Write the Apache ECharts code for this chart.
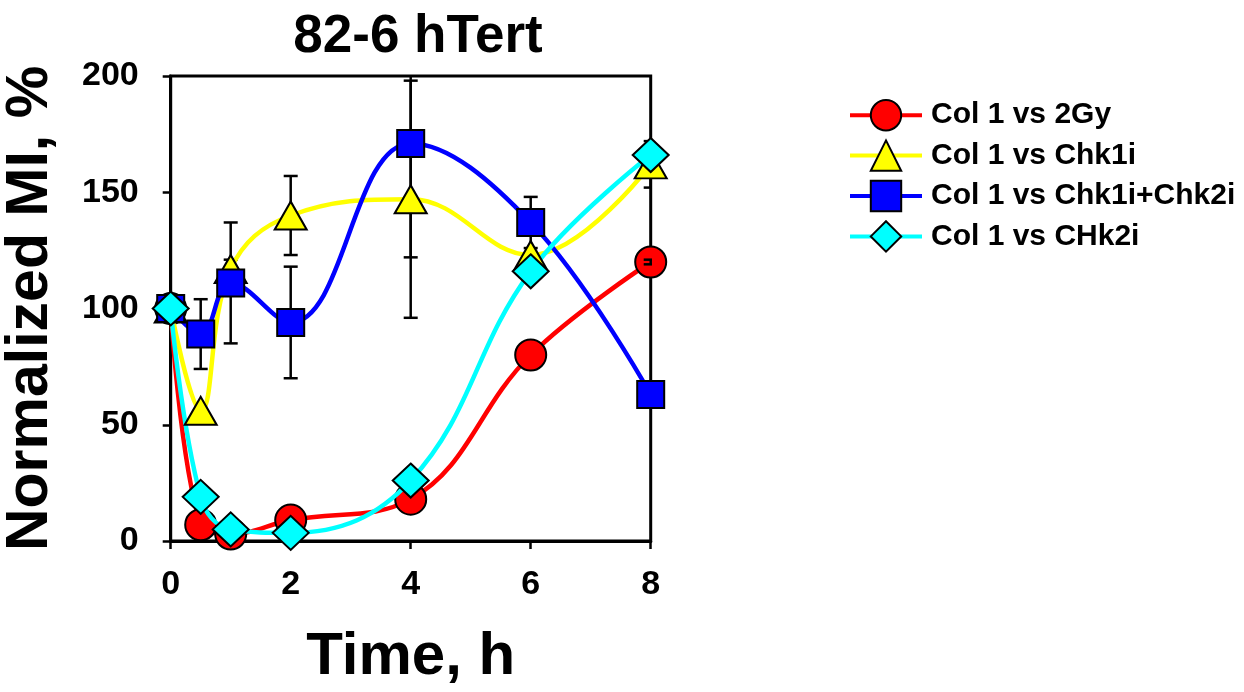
<!DOCTYPE html>
<html>
<head>
<meta charset="utf-8">
<script src="https://cdn.jsdelivr.net/npm/echarts@6/dist/echarts.min.js"></script>
<style>
  html, body { margin: 0; padding: 0; background: #fff; }
  #chart { width: 1244px; height: 692px; }
</style>
</head>
<body>
<div id="chart"></div>
<script>
// Sampling times (h)
const times = [0, 0.5, 1, 2, 4, 6, 8];

// Normalized mitotic index (%) and error (SE) per condition; null = no error bar
const gy2      = [100, 7, 3, 9, 18, 80, 120];
const gy2Err   = [null, null, null, null, null, null, 1];
const chk1i    = [100, 56, 117, 140, 147, 123, 162];
const chk1iErr = [null, null, 4, 17, 51, null, 10];
const chk12    = [100, 89, 111, 94, 171, 137, 63];
const chk12Err = [null, 15, 26, 24, 49, 11, null];
const chk2     = [100, 19, 5, 3.5, 26, 116, 166];
const chk2Err  = [null, null, null, null, null, null, null];

const names = ['Col 1 vs 2Gy', 'Col 1 vs Chk1i', 'Col 1 vs Chk1i+Chk2i', 'Col 1 vs CHk2i'];

const FONT = '"Liberation Sans", Arial, sans-serif';

function pairs(vals) {
  return times.map((t, i) => [t, vals[i]]);
}
function errPairs(vals, errs) {
  const out = [];
  times.forEach((t, i) => {
    if (errs[i] != null) out.push([t, vals[i], errs[i]]);
  });
  return out;
}

// Vertical error bar with horizontal caps
function renderErr(params, api) {
  const x = api.value(0), y = api.value(1), e = api.value(2);
  const hi = api.coord([x, y + e]);
  const lo = api.coord([x, y - e]);
  const cap = 7;
  const style = { stroke: '#000', lineWidth: 2.5 };
  return {
    type: 'group',
    children: [
      { type: 'line', shape: { x1: hi[0], y1: hi[1], x2: lo[0], y2: lo[1] }, style },
      { type: 'line', shape: { x1: hi[0] - cap, y1: hi[1], x2: hi[0] + cap, y2: hi[1] }, style },
      { type: 'line', shape: { x1: lo[0] - cap, y1: lo[1], x2: lo[0] + cap, y2: lo[1] }, style }
    ]
  };
}

function lineSeries(name, vals, color, symbol, size, z) {
  return {
    name, type: 'line', data: pairs(vals), z,
    smooth: 0.4,
    symbol, symbolSize: size,
    lineStyle: { color, width: 4.5 },
    itemStyle: { color, borderColor: '#000', borderWidth: 2 },
    emphasis: { disabled: true },
    animation: false
  };
}
function errSeries(vals, errs) {
  return {
    type: 'custom', renderItem: renderErr, data: errPairs(vals, errs),
    z: 2, clip: true, silent: true, animation: false
  };
}

const chart = echarts.init(document.getElementById('chart'), null, { renderer: 'canvas' });
chart.setOption({
  backgroundColor: '#fff',
  animation: false,
  title: {
    text: '82-6 hTert',
    left: 413, top: 6, textAlign: 'center',
    textStyle: { fontFamily: FONT, fontWeight: 'bold', fontSize: 53, color: '#000' }
  },
  legend: {
    orient: 'vertical',
    left: 843, top: 94,
    itemWidth: 72, itemHeight: 38, itemGap: 8,
    data: names,
    selectedMode: false,
    lineStyle: { width: 4 },
    textStyle: { fontFamily: FONT, fontWeight: 'bold', fontSize: 30, color: '#000', padding: [0, 0, 0, 4] }
  },
  grid: {
    left: 170.7, right: 593.3, top: 76, bottom: 148.7,
    show: true, borderColor: '#000', borderWidth: 3, backgroundColor: 'transparent'
  },
  xAxis: {
    type: 'value', min: 0, max: 8, interval: 2,
    name: 'Time, h', nameLocation: 'middle', nameGap: 86,
    nameTextStyle: { fontFamily: FONT, fontWeight: 'bold', fontSize: 60, color: '#000' },
    axisLine: { lineStyle: { color: '#000', width: 3 } },
    axisTick: { show: true, inside: false, length: 8, lineStyle: { color: '#000', width: 2.5 } },
    axisLabel: { margin: 27, fontFamily: FONT, fontWeight: 'bold', fontSize: 34, color: '#000' },
    splitLine: { show: false }
  },
  yAxis: {
    type: 'value', min: 0, max: 200, interval: 50,
    name: 'Normalized MI, %', nameLocation: 'middle', nameGap: 110,
    nameTextStyle: { fontFamily: FONT, fontWeight: 'bold', fontSize: 59, color: '#000' },
    axisLine: { lineStyle: { color: '#000', width: 3 } },
    axisTick: { show: true, inside: false, length: 8, lineStyle: { color: '#000', width: 2.5 } },
    axisLabel: { margin: 32, fontFamily: FONT, fontWeight: 'bold', fontSize: 34, color: '#000' },
    splitLine: { show: false }
  },
  series: [
    lineSeries(names[0], gy2, '#ff0000', 'circle', 31, 1),
    errSeries(gy2, gy2Err),
    errSeries(chk1i, chk1iErr),
    errSeries(chk12, chk12Err),
    errSeries(chk2, chk2Err),
    lineSeries(names[1], chk1i, '#ffff00', 'triangle', [32, 28], 3),
    lineSeries(names[2], chk12, '#0000ff', 'rect', 27, 3),
    lineSeries(names[3], chk2, '#00ffff', 'diamond', [36, 34], 3)
  ]
});
</script>
</body>
</html>
